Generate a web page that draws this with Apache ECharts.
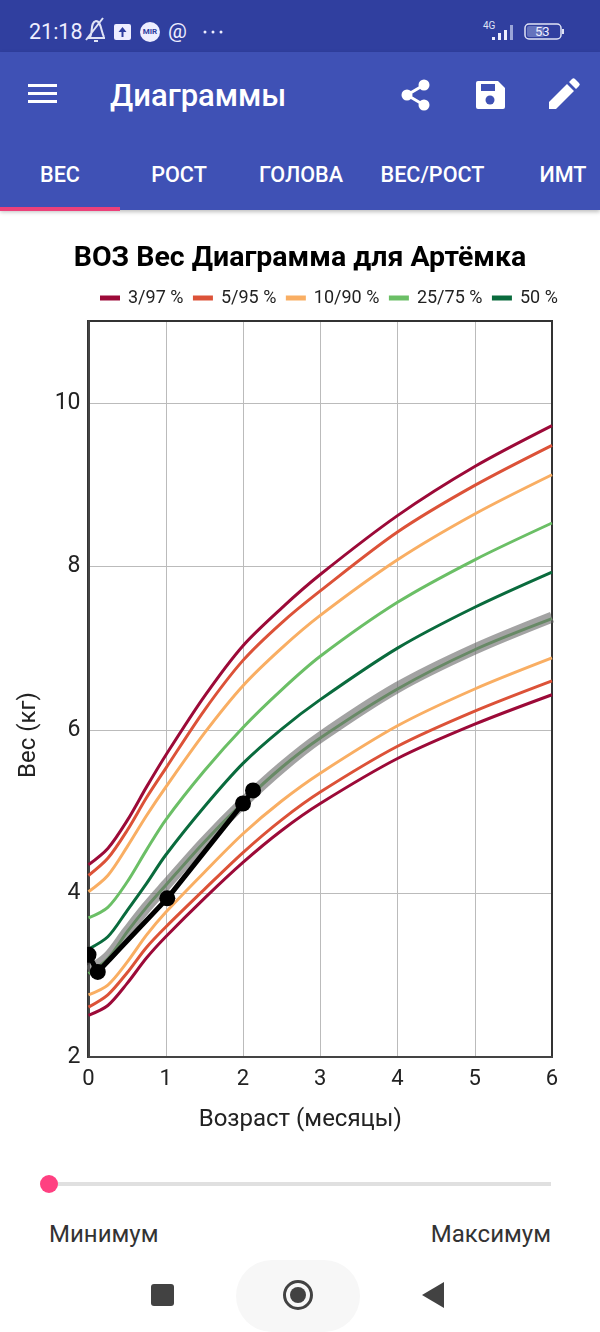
<!DOCTYPE html>
<html>
<head>
<meta charset="utf-8">
<script src="https://cdn.jsdelivr.net/npm/echarts@6/dist/echarts.min.js"></script>
<style>
html, body { margin: 0; padding: 0; width: 600px; height: 1332px; background: #fff; overflow: hidden; font-family: Roboto, sans-serif; }
.abs { position: absolute; white-space: nowrap; }
#status { position: absolute; left: 0; top: 0; width: 600px; height: 52px; background: #303F9F; }
#bar { position: absolute; left: 0; top: 52px; width: 600px; height: 158px; background: #3F51B5; box-shadow: 0 2px 4px rgba(0,0,0,.25); }
#chart { position: absolute; left: 0; top: 210px; width: 600px; height: 940px; }
.tab { color: #fff; font-size: 21.6px; font-weight: 500; top: 162px; transform: translateX(-50%); }
svg { position: absolute; }
</style>
</head>
<body>
<div id="status"></div>
<div id="bar"></div>
<div class="abs" style="left:29px;top:19px;color:#eef;font-size:21.500px;">21:18</div>
<svg style="left:0;top:0" width="600" height="52">
	<g fill="none" stroke="#dfe3f5" stroke-width="2">
		<path d="M87 38h18M90 37c3-4 0-15 6-16 5 0 5 10 8 16M86 40l17-22M94 41h4"/>
	</g>
	<rect x="114" y="24" width="17" height="16" rx="2" fill="#eef"/>
	<path d="M122.500 27l-4 5h3v5h2v-5h3z" fill="#303F9F"/>
	<circle cx="150" cy="32" r="10" fill="#eef"/>
	<circle cx="205" cy="32" r="1.500" fill="#eef"/><circle cx="213" cy="32" r="1.500" fill="#eef"/><circle cx="221" cy="32" r="1.500" fill="#eef"/>
	<g fill="#eef"><rect x="492" y="37" width="3" height="3"/><rect x="498" y="33" width="3" height="7"/><rect x="504" y="30" width="3" height="10"/></g>
	<rect x="510" y="25" width="3" height="15" fill="#9aa5d8"/>
	<rect x="525" y="24" width="36" height="15" rx="4" fill="none" stroke="#dfe3f5" stroke-width="1.500"/>
	<rect x="527" y="26" width="17" height="11" rx="2" fill="#6573bd"/>
	<rect x="562" y="29" width="2" height="5" fill="#dfe3f5"/>
</svg>
<div class="abs" style="left:141px;top:27px;width:18px;text-align:center;color:#303F9F;font-size:8px;font-weight:700;">MIR</div>
<div class="abs" style="left:168px;top:19px;color:#eef;font-size:21px;">@</div>
<div class="abs" style="left:483px;top:20px;color:#dfe3f5;font-size:10px;">4G</div>
<div class="abs" style="left:535px;top:24px;color:#eef;font-size:13px;">53</div>
<svg style="left:0;top:52px" width="600" height="100">
	<g fill="#fff">
		<rect x="28" y="32" width="29" height="3"/><rect x="28" y="40" width="29" height="3"/><rect x="28" y="48" width="29" height="3"/>
		<circle cx="424" cy="33" r="5.500"/><circle cx="424" cy="53" r="5.500"/><circle cx="407" cy="43" r="5.500"/>
		<path d="M478 29h20l7 7v19a2 2 0 0 1-2 2h-25a2 2 0 0 1-2-2v-24a2 2 0 0 1 2-2z"/>
		<path d="M549 57v-7l18-18 7 7-18 18zM569 30l3-3a2 2 0 0 1 3 0l4 4a2 2 0 0 1 0 3l-3 3z"/>
	</g>
	<path d="M424 33l-17 10 17 10" fill="none" stroke="#fff" stroke-width="3"/>
	<rect x="481" y="32" width="14" height="7" fill="#3F51B5"/>
	<circle cx="490" cy="48" r="4.500" fill="#3F51B5"/>
</svg>
<div class="abs" style="left:110px;top:77px;color:#fff;font-size:31px;font-weight:500;">Диаграммы</div>
<div class="abs tab" style="left:60px">ВЕС</div>
<div class="abs tab" style="left:179px">РОСТ</div>
<div class="abs tab" style="left:301px">ГОЛОВА</div>
<div class="abs tab" style="left:432.500px">ВЕС/РОСТ</div>
<div class="abs tab" style="left:563px">ИМТ</div>
<div class="abs" style="left:0;top:207px;width:120px;height:4px;background:#EC407A;"></div>

<div id="chart"></div>

<div class="abs" style="left:49px;top:1182px;width:502px;height:4px;background:#e0e0e0;"></div>
<div class="abs" style="left:40px;top:1175px;width:18px;height:18px;border-radius:50%;background:#FF4081;"></div>
<div class="abs" style="left:49px;top:1220px;color:#333;font-size:24px;">Минимум</div>
<div class="abs" style="right:49px;top:1220px;color:#333;font-size:24px;">Максимум</div>
<div class="abs" style="left:236px;top:1260px;width:124px;height:72px;border-radius:36px;background:#f7f7f7;"></div>
<svg style="left:0;top:1270px" width="600" height="50">
	<rect x="151" y="14" width="23" height="22" rx="3" fill="#424242"/>
	<circle cx="298" cy="25" r="13.500" fill="none" stroke="#424242" stroke-width="3"/>
	<circle cx="298" cy="25" r="8" fill="#424242"/>
	<path d="M444 12v26l-22-13z" fill="#424242"/>
</svg>

<script>
// месяцы
var months = [0, 0.25, 0.5, 0.75, 1, 1.5, 2, 2.5, 3, 4, 5, 6];

// перцентили
var p3 = [2.51, 2.63, 2.9, 3.21, 3.47, 3.94, 4.38, 4.77, 5.1, 5.65, 6.07, 6.43];
var p5 = [2.61, 2.76, 3.03, 3.34, 3.59, 4.05, 4.5, 4.9, 5.24, 5.8, 6.23, 6.6];
var p10 = [2.76, 2.88, 3.16, 3.49, 3.77, 4.26, 4.73, 5.13, 5.47, 6.05, 6.5, 6.88];
var p25 = [3.02, 3.2, 3.53, 3.83, 4.1, 4.63, 5.11, 5.54, 5.9, 6.5, 6.98, 7.36];
var p50 = [3.32, 3.47, 3.79, 4.12, 4.47, 5.06, 5.59, 6.01, 6.37, 7.0, 7.5, 7.93];
var p75 = [3.7, 3.83, 4.14, 4.53, 4.9, 5.5, 6.03, 6.49, 6.9, 7.56, 8.08, 8.53];
var p90 = [4.02, 4.22, 4.57, 4.95, 5.3, 5.96, 6.54, 7.0, 7.4, 8.08, 8.64, 9.12];
var p95 = [4.22, 4.43, 4.77, 5.17, 5.53, 6.24, 6.85, 7.31, 7.7, 8.42, 8.99, 9.48];
var p97 = [4.35, 4.55, 4.89, 5.3, 5.69, 6.41, 7.03, 7.49, 7.9, 8.62, 9.22, 9.72];

// прогноз (серая полоса)
var bandValues = [3.05, 3.22, 3.53, 3.83, 4.1, 4.63, 5.11, 5.54, 5.91, 6.52, 6.99, 7.38];

// измерения ребёнка
var childAge = [0, 0.12, 1.02, 2.0, 2.13];
var childWeight = [3.25, 3.04, 3.94, 5.1, 5.26];

var yTicks = [2, 4, 6, 8, 10];

function pairs(xs, ys) {
	return xs.map(function (x, i) {
		return [x, ys[i]];
	});
}

function Curve(name, values, color) {
	return {
		name: name,
		type: "line",
		data: pairs(months, values),
		smooth: 0.3,
		symbol: "none",
		silent: true,
		lineStyle: { color: color, width: 3 },
		itemStyle: { color: color }
	};
}

var C3 = "#9C0A38";
var C5 = "#DC5238";
var C10 = "#F9AE63";
var C25 = "#6BBF66";
var C50 = "#0A6B3D";

var myChart = echarts.init(document.getElementById("chart"), null, { renderer: "canvas" });
var option = {
	animation: false,
	title: {
		text: "ВОЗ Вес Диаграмма для Артёмка",
		left: "center",
		top: 29,
		textStyle: { fontFamily: "Roboto", fontSize: 28.5, fontWeight: "bold", color: "#000" }
	},
	legend: {
		data: ["3/97 %", "5/95 %", "10/90 %", "25/75 %", "50 %"],
		left: 95,
		top: 74,
		itemWidth: 20,
		itemHeight: 5,
		itemGap: 9.5,
		icon: "rect",
		textStyle: { fontFamily: "Roboto", fontSize: 18, color: "#222", padding: [0, 0, 0, 3] }
	},
	grid: { left: 88.5, width: 463.5, top: 111, height: 736, containLabel: false },
	xAxis: {
		type: "value",
		min: 0,
		max: 6,
		interval: 1,
		name: "Возраст (месяцы)",
		nameLocation: "middle",
		nameGap: 51,
		nameTextStyle: { fontFamily: "Roboto", fontSize: 24, color: "#222", padding: [0, 40, 0, 0] },
		axisLine: { show: true, lineStyle: { color: "#444", width: 2 } },
		axisTick: { show: false },
		axisLabel: { fontFamily: "Roboto", fontSize: 22, color: "#222", margin: 11 },
		splitLine: { show: true, lineStyle: { color: "#bbb", width: 1 } }
	},
	yAxis: {
		type: "value",
		min: 2,
		max: 11,
		interval: 2,
		name: "Вес (кг)",
		nameLocation: "middle",
		nameGap: 48,
		nameTextStyle: { fontFamily: "Roboto", fontSize: 24, color: "#222", padding: [0, 92, 0, 0] },
		axisLine: { show: true, lineStyle: { color: "#444", width: 2 } },
		axisTick: { show: false },
		axisLabel: {
			fontFamily: "Roboto",
			fontSize: 23,
			color: "#222",
			margin: 8,
			padding: [4, 0, 0, 0],
			showMaxLabel: false,
			formatter: function (v) {
				return yTicks.indexOf(v) >= 0 ? v : "";
			}
		},
		splitLine: { show: true, lineStyle: { color: "#bbb", width: 1 } }
	},
	series: [
		Curve("3/97 %", p3, C3),
		Curve("5/95 %", p5, C5),
		Curve("10/90 %", p10, C10),
		Curve("25/75 %", p25, C25),
		Curve("50 %", p50, C50),
		Curve("25/75 %", p75, C25),
		Curve("10/90 %", p90, C10),
		Curve("5/95 %", p95, C5),
		Curve("3/97 %", p97, C3),
		{
			name: "band",
			type: "line",
			data: pairs(months, bandValues),
			smooth: 0.3,
			symbol: "none",
			silent: true,
			lineStyle: { color: "#666", width: 11, opacity: 0.6, cap: "butt" }
		},
		{
			name: "child",
			type: "line",
			data: pairs(childAge, childWeight),
			symbol: "circle",
			symbolSize: 16,
			silent: true,
			lineStyle: { color: "#000", width: 5 },
			itemStyle: { color: "#000" }
		}
	]
};
myChart.setOption(option);
// рамка и маска: точка на оси обрезается по краю графика
myChart.setOption({
	graphic: [
		{ type: "rect", shape: { x: 88, y: 111, width: 464, height: 736 }, style: { fill: "none", stroke: "#333", lineWidth: 2 }, z: 0, silent: true },
		{ type: "rect", shape: { x: 78, y: 730, width: 9, height: 30 }, style: { fill: "#fff" }, z: 100, silent: true }
	]
});
window.addEventListener("resize", myChart.resize);
</script>
</body>
</html>
